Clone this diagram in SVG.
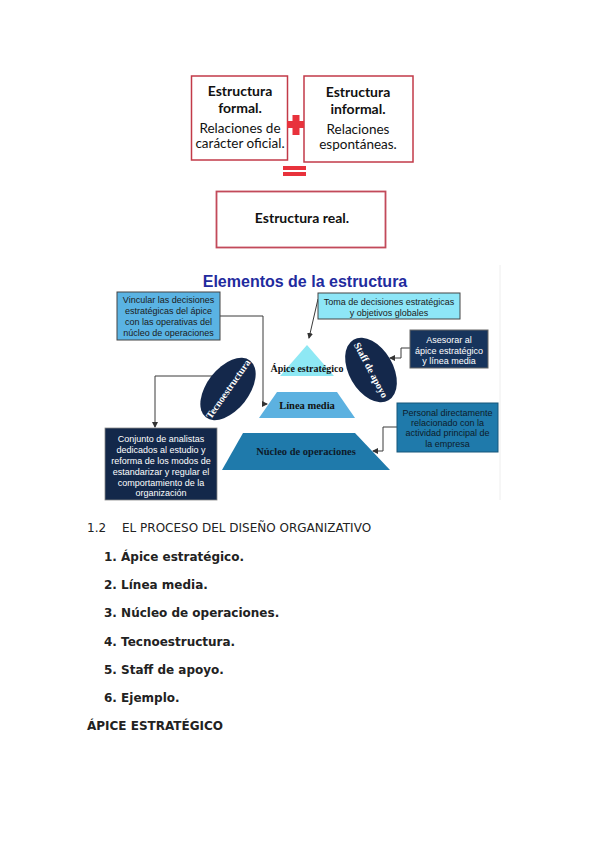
<svg xmlns="http://www.w3.org/2000/svg" width="599" height="848" viewBox="0 0 599 848">
<style>
.rb{fill:#fff;stroke:#c23a48;stroke-width:1.5}
.gs{font-family:Lato,"Open Sans",sans-serif;font-size:13.5px;fill:#111;text-anchor:middle}
.gsb{font-weight:bold;font-size:14px}
.ar{font-family:"Liberation Sans",Arial,sans-serif;font-size:9px;text-anchor:middle}
.tm{font-family:"Liberation Serif","Times New Roman",serif;font-weight:bold;text-anchor:middle}
.con{fill:none;stroke:#3a3a3a;stroke-width:1}
.doc{font-family:"DejaVu Sans",sans-serif;font-size:12px;fill:#222}
.docb{font-family:"DejaVu Sans",sans-serif;font-size:12px;font-weight:bold;fill:#222}
</style>
<defs>
<marker id="ah" markerWidth="6" markerHeight="6" refX="5" refY="3" orient="auto" markerUnits="userSpaceOnUse">
<path d="M0,0 L6,3 L0,6 z" fill="#333"/>
</marker>
</defs>
<rect width="599" height="848" fill="#fff"/>

<g id="formal">
<rect class="rb" x="191.5" y="76" width="96" height="84"/>
<text class="gs gsb" x="240" y="96">Estructura</text>
<text class="gs gsb" x="240" y="112.5">formal.</text>
<text class="gs" x="240" y="133">Relaciones de</text>
<text class="gs" x="240" y="148">carácter oficial.</text>
</g>
<g id="informal">
<rect class="rb" x="304" y="76" width="109" height="86"/>
<text class="gs gsb" x="358" y="97">Estructura</text>
<text class="gs gsb" x="358" y="113.5">informal.</text>
<text class="gs" x="358" y="134">Relaciones</text>
<text class="gs" x="358" y="149">espontáneas.</text>
</g>
<g id="plus">
<rect x="287" y="121" width="17" height="7" fill="#e8323c"/>
<rect x="292.5" y="115" width="7" height="20" fill="#e8323c"/>
</g>
<g id="equals">
<rect x="283" y="166" width="23" height="4" fill="#e8323c"/>
<rect x="283" y="172" width="23" height="4" fill="#e8323c"/>
</g>
<g id="real">
<rect x="216.5" y="191.5" width="169" height="56" fill="#fff" stroke="#c24a5a" stroke-width="1.8"/>
<text class="gs gsb" x="302" y="223">Estructura real.</text>
</g>

<line x1="500" y1="265" x2="500" y2="500" stroke="#eeeeee" stroke-width="1"/>
<text x="305" y="287" font-family="'Liberation Sans',Arial,sans-serif" font-size="16" font-weight="bold" fill="#1f2b9e" text-anchor="middle">Elementos de la estructura</text>

<g id="connectors">
<polyline class="con" points="220,316 263,316 263,404 267,404" marker-end="url(#ah)"/>
<line class="con" x1="318" y1="299" x2="309" y2="338" marker-end="url(#ah)"/>
<polyline class="con" points="212,376 155,376 155,427" marker-end="url(#ah)"/>
<polyline class="con" points="410,348 401,348 401,358 390,358" marker-end="url(#ah)"/>
<polyline class="con" points="397,427 383,427 383,451 373,451" marker-end="url(#ah)"/>
</g>

<g id="vincular">
<rect x="117" y="292" width="103" height="48" fill="#5ab3e3" stroke="#444" stroke-width="1"/>
<text class="ar" x="168.5" y="303" fill="#1a1a1a">Vincular las decisiones</text>
<text class="ar" x="168.5" y="314" fill="#1a1a1a">estratégicas del ápice</text>
<text class="ar" x="168.5" y="325" fill="#1a1a1a">con las operativas del</text>
<text class="ar" x="168.5" y="336" fill="#1a1a1a">núcleo de operaciones</text>
</g>
<g id="toma">
<rect x="318" y="293" width="142" height="26" fill="#8ee6f7" stroke="#444" stroke-width="1"/>
<text class="ar" x="389" y="305" fill="#1a1a1a">Toma de decisiones estratégicas</text>
<text class="ar" x="389" y="316" fill="#1a1a1a">y objetivos globales</text>
</g>
<g id="apice">
<polygon points="307,345 280,376 334,376" fill="#8ee8f4"/>
<text class="tm" x="307" y="372" font-size="10" fill="#111">Ápice estratégico</text>
</g>
<g id="linea">
<polygon points="277,392 337,392 355,418 259,418" fill="#5cb1e0"/>
<text class="tm" x="307" y="409" font-size="10.5" fill="#111">Línea media</text>
</g>
<g id="nucleo">
<polygon points="243,433 355,433 390,470 222,470" fill="#1f7aab"/>
<text class="tm" x="306" y="455" font-size="10.5" fill="#0d1a2a">Núcleo de operaciones</text>
</g>
<g id="tecno">
<ellipse cx="228" cy="389" rx="36" ry="21" transform="rotate(-52 228 389)" fill="#14284b"/>
<text class="tm" x="228" y="392.5" font-size="10" fill="#fff" transform="rotate(-55 228 389)">Tecnoestructura</text>
</g>
<g id="staff">
<ellipse cx="371" cy="370" rx="35" ry="22" transform="rotate(60 371 370)" fill="#14284b"/>
<text class="tm" x="371" y="373.5" font-size="10" fill="#fff" transform="rotate(62 371 370)">Staff de apoyo</text>
</g>
<g id="asesorar">
<rect x="410" y="330" width="78" height="38" fill="#17345c" stroke="#666" stroke-width="1"/>
<text class="ar" x="449" y="343" fill="#fff">Asesorar al</text>
<text class="ar" x="449" y="354" fill="#fff">ápice estratégico</text>
<text class="ar" x="449" y="364" fill="#fff">y línea media</text>
</g>
<g id="personal">
<rect x="397" y="403" width="101" height="49" fill="#1f7aab" stroke="#17577a" stroke-width="1"/>
<text class="ar" x="447.5" y="416" fill="#0d1a2a">Personal directamente</text>
<text class="ar" x="447.5" y="426" fill="#0d1a2a">relacionado con la</text>
<text class="ar" x="447.5" y="436" fill="#0d1a2a">actividad principal de</text>
<text class="ar" x="447.5" y="447" fill="#0d1a2a">la empresa</text>
</g>
<g id="conjunto">
<rect x="105" y="428" width="112" height="72" fill="#13284a" stroke="#888" stroke-width="0.8"/>
<text class="ar" x="161" y="442" fill="#fff">Conjunto de analistas</text>
<text class="ar" x="161" y="452.5" fill="#fff">dedicados al estudio y</text>
<text class="ar" x="161" y="463.5" fill="#fff">reforma de los modos de</text>
<text class="ar" x="161" y="474.5" fill="#fff">estandarizar y regular el</text>
<text class="ar" x="161" y="485.5" fill="#fff">comportamiento de la</text>
<text class="ar" x="161" y="496" fill="#fff">organización</text>
</g>

<text class="doc" x="87" y="532">1.2</text>
<text class="doc" x="122" y="532">EL PROCESO DEL DISEÑO ORGANIZATIVO</text>
<text class="docb" x="104" y="561">1. Ápice estratégico.</text>
<text class="docb" x="104" y="589">2. Línea media.</text>
<text class="docb" x="104" y="617">3. Núcleo de operaciones.</text>
<text class="docb" x="104" y="646">4. Tecnoestructura.</text>
<text class="docb" x="104" y="674">5. Staff de apoyo.</text>
<text class="docb" x="104" y="702">6. Ejemplo.</text>
<text class="docb" x="87" y="730">ÁPICE ESTRATÉGICO</text>
</svg>
